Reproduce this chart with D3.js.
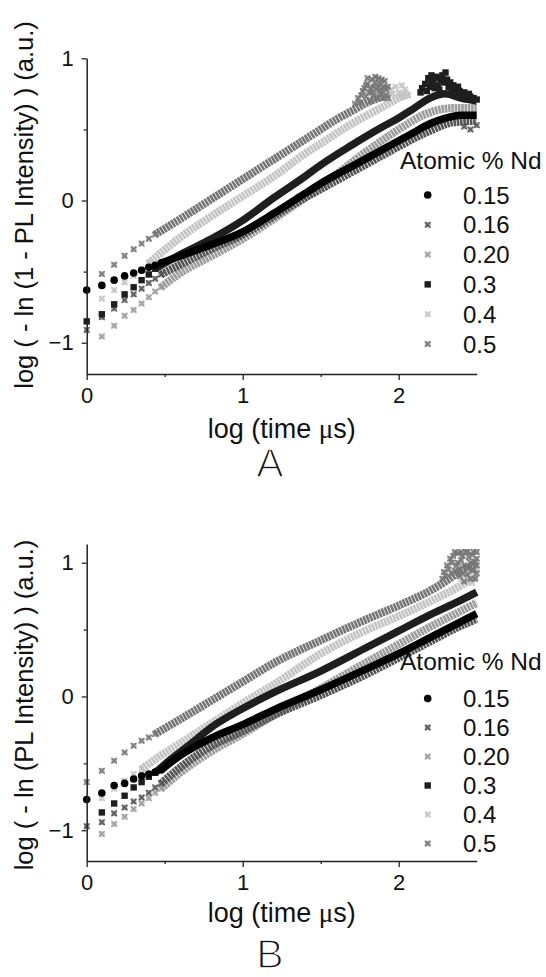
<!DOCTYPE html>
<html>
<head>
<meta charset="utf-8">
<script src="https://cdn.jsdelivr.net/npm/d3@7"></script>
<style>
  body { margin: 0; background: #fff; }
  text { font-family: "Liberation Sans", Arial, sans-serif; fill: #111; }
</style>
</head>
<body>
<svg id="chart" width="546" height="977"></svg>
<script>
// legend order: Atomic % Nd
const levels = ["0.15", "0.16", "0.20", "0.3", "0.4", "0.5"];

// x ticks (log time) and y ticks
const xTicks = [0, 1, 2];
const xMinor = [0.5, 1.5];
const yTicks = [-1, 0, 1];
const yMinor = [-0.5, 0.5];

// panel A : log(-ln(1 - PL)) — first separate points, one list per level
const earlyA = [
  [[0,-0.63],[0.097,-0.597],[0.176,-0.56],[0.243,-0.53],[0.301,-0.51],[0.352,-0.49],[0.398,-0.47],[0.439,-0.455],[0.477,-0.44]],
  [[0,-0.91],[0.097,-0.82],[0.176,-0.76],[0.243,-0.70],[0.301,-0.66],[0.352,-0.62],[0.398,-0.58],[0.439,-0.55],[0.477,-0.52]],
  [[0.097,-0.956],[0.176,-0.88],[0.243,-0.81],[0.301,-0.77],[0.352,-0.725],[0.398,-0.68],[0.439,-0.64],[0.477,-0.61]],
  [[0,-0.85],[0.097,-0.80],[0.176,-0.73],[0.243,-0.66],[0.301,-0.61],[0.352,-0.56],[0.398,-0.52],[0.439,-0.48]],
  [[0.097,-0.69],[0.176,-0.63],[0.243,-0.575],[0.301,-0.53],[0.352,-0.485],[0.398,-0.44]],
  [[0.097,-0.517],[0.176,-0.451],[0.243,-0.389],[0.301,-0.343],[0.352,-0.303],[0.398,-0.269],[0.439,-0.239]]
];
// panel A : where the points run together into bands
const bandA = [
  [[0.477,-0.44],[0.6,-0.39],[0.8,-0.31],[1.0,-0.22],[1.2,-0.09],[1.4,0.05],[1.5,0.12],[1.7,0.24],[1.9,0.36],[2.0,0.42],[2.1,0.48],[2.2,0.54],[2.3,0.58],[2.4,0.60],[2.5,0.60]],
  [[0.477,-0.52],[0.6,-0.45],[0.8,-0.34],[1.0,-0.24],[1.2,-0.11],[1.4,0.02],[1.5,0.08],[1.7,0.20],[1.9,0.32],[2.0,0.38],[2.2,0.49],[2.35,0.55],[2.5,0.56]],
  [[0.477,-0.61],[0.6,-0.51],[0.8,-0.39],[1.0,-0.27],[1.2,-0.13],[1.5,0.10],[1.8,0.35],[2.0,0.50],[2.2,0.62],[2.35,0.65],[2.5,0.65]],
  [[0.439,-0.48],[0.6,-0.38],[0.8,-0.27],[1.0,-0.14],[1.2,0.02],[1.4,0.17],[1.5,0.25],[1.7,0.39],[1.9,0.52],[2.0,0.58],[2.1,0.65],[2.2,0.72],[2.3,0.75],[2.4,0.72],[2.5,0.70]],
  [[0.398,-0.44],[0.6,-0.26],[0.8,-0.11],[1.0,0.03],[1.2,0.17],[1.4,0.33],[1.5,0.40],[1.7,0.54],[1.9,0.66],[2.0,0.72],[2.07,0.75]],
  [[0.439,-0.239],[0.6,-0.13],[0.8,0.01],[1.0,0.15],[1.2,0.29],[1.4,0.43],[1.5,0.50],[1.6,0.57],[1.7,0.63],[1.8,0.69],[1.9,0.73]]
];
// panel A : scattered points at long times
const noiseA = [
  [],
  [[2.42,0.52],[2.46,0.50],[2.5,0.53]],
  [],
  [[2.14,0.76],[2.15,0.79],[2.17,0.82],[2.18,0.77],[2.19,0.86],[2.2,0.80],[2.21,0.88],[2.21,0.83],[2.22,0.84],[2.23,0.79],[2.24,0.87],[2.25,0.81],[2.26,0.78],[2.26,0.86],[2.27,0.85],[2.28,0.88],[2.29,0.83],[2.30,0.90],[2.31,0.85],[2.32,0.80],[2.33,0.83],[2.34,0.78],[2.35,0.81],[2.36,0.76],[2.37,0.79],[2.38,0.80],[2.39,0.77],[2.4,0.74],[2.42,0.76],[2.43,0.72],[2.45,0.75],[2.46,0.73],[2.48,0.72],[2.5,0.71]],
  [[1.93,0.74],[1.95,0.78],[1.96,0.75],[1.98,0.80],[2.0,0.76],[2.01,0.73],[2.02,0.81],[2.03,0.75],[2.04,0.78],[2.06,0.74]],
  [[1.72,0.68],[1.74,0.72],[1.75,0.69],[1.76,0.74],[1.77,0.77],[1.78,0.79],[1.79,0.73],[1.79,0.81],[1.80,0.82],[1.80,0.86],[1.81,0.76],[1.82,0.70],[1.82,0.79],[1.83,0.85],[1.83,0.76],[1.84,0.80],[1.84,0.74],[1.85,0.83],[1.85,0.87],[1.86,0.78],[1.86,0.72],[1.87,0.86],[1.87,0.80],[1.88,0.82],[1.88,0.77],[1.89,0.75],[1.89,0.85],[1.9,0.80],[1.90,0.72],[1.91,0.84],[1.91,0.79],[1.92,0.78],[1.92,0.74],[1.93,0.72],[1.93,0.80]]
];

// panel B : log(-ln(PL))
const earlyB = [
  [[0,-0.77],[0.097,-0.722],[0.176,-0.665],[0.243,-0.65],[0.301,-0.617],[0.352,-0.593],[0.398,-0.58],[0.439,-0.565],[0.477,-0.55]],
  [[0,-0.97],[0.097,-0.94],[0.176,-0.874],[0.243,-0.83],[0.301,-0.785],[0.352,-0.755],[0.398,-0.72],[0.439,-0.68],[0.477,-0.65]],
  [[0.097,-1.028],[0.176,-0.954],[0.243,-0.90],[0.301,-0.842],[0.352,-0.80],[0.398,-0.76],[0.439,-0.72],[0.477,-0.69]],
  [[0.097,-0.867],[0.176,-0.80],[0.243,-0.742],[0.301,-0.68],[0.352,-0.64],[0.398,-0.60],[0.439,-0.57]],
  [[0.097,-0.76],[0.176,-0.69],[0.243,-0.63],[0.301,-0.58],[0.352,-0.543]],
  [[0,-0.64],[0.097,-0.555],[0.176,-0.48],[0.243,-0.418],[0.301,-0.368],[0.352,-0.331],[0.398,-0.306],[0.439,-0.28]]
];
const bandB = [
  [[0.477,-0.55],[0.6,-0.44],[0.8,-0.31],[1.0,-0.21],[1.2,-0.10],[1.5,0.05],[1.8,0.21],[2.0,0.32],[2.2,0.44],[2.4,0.56],[2.5,0.62]],
  [[0.477,-0.65],[0.6,-0.53],[0.8,-0.37],[1.0,-0.26],[1.2,-0.14],[1.5,0.01],[1.8,0.17],[2.0,0.29],[2.2,0.41],[2.4,0.53],[2.5,0.58]],
  [[0.477,-0.69],[0.6,-0.57],[0.8,-0.41],[1.0,-0.28],[1.2,-0.14],[1.5,0.06],[1.8,0.26],[2.0,0.39],[2.2,0.52],[2.4,0.64],[2.5,0.70]],
  [[0.439,-0.57],[0.55,-0.46],[0.65,-0.37],[0.8,-0.23],[1.0,-0.09],[1.2,0.03],[1.5,0.19],[1.8,0.37],[2.0,0.49],[2.2,0.61],[2.4,0.72],[2.5,0.78]],
  [[0.352,-0.543],[0.45,-0.46],[0.6,-0.35],[0.8,-0.20],[1.0,-0.05],[1.2,0.09],[1.5,0.32],[1.8,0.50],[2.0,0.60],[2.2,0.71],[2.4,0.83],[2.5,0.90]],
  [[0.439,-0.28],[0.6,-0.17],[0.8,-0.03],[1.0,0.11],[1.2,0.25],[1.5,0.42],[1.8,0.58],[2.0,0.68],[2.2,0.79],[2.3,0.86],[2.4,0.94],[2.5,0.99]]
];
const noiseB = [
  [], [], [], [],
  [[2.4,0.88],[2.45,0.93],[2.5,0.95],[2.47,0.85]],
  [[2.28,0.88],[2.29,0.93],[2.30,0.90],[2.31,0.98],[2.32,0.95],[2.33,1.03],[2.34,1.0],[2.34,0.92],[2.35,1.05],[2.36,1.08],[2.36,0.94],[2.37,0.98],[2.38,1.07],[2.38,1.0],[2.39,0.95],[2.39,0.90],[2.40,1.02],[2.40,1.08],[2.41,0.92],[2.41,1.05],[2.42,0.86],[2.42,0.98],[2.43,1.08],[2.44,0.97],[2.44,1.08],[2.44,0.91],[2.45,1.04],[2.45,0.96],[2.46,0.88],[2.46,1.0],[2.47,1.06],[2.47,0.94],[2.48,0.95],[2.48,1.08],[2.49,1.01],[2.49,0.88],[2.5,1.08],[2.5,1.03],[2.5,0.98],[2.5,0.92]]
];

// look of each level
const shade = ["#000", "#555", "#9c9c9c", "#1e1e1e", "#c4c4c4", "#767676"];
const drawOrder = [4, 5, 2, 1, 3, 0];

const svg = d3.select("#chart");

function marker(g, i, cx, cy) {
  if (i === 0) {
    g.append("circle").attr("cx", cx).attr("cy", cy).attr("r", 3.8).attr("fill", shade[i]);
  } else if (i === 3) {
    g.append("rect").attr("x", cx - 3.2).attr("y", cy - 3.2).attr("width", 6.4).attr("height", 6.4).attr("fill", shade[i]);
  } else {
    g.append("rect").attr("x", cx - 2.8).attr("y", cy - 2.8).attr("width", 5.6).attr("height", 5.6)
      .attr("fill", shade[i]).attr("fill-opacity", 0.55);
    g.append("path").attr("d", `M${cx-2.8},${cy-2.8}L${cx+2.8},${cy+2.8}M${cx+2.8},${cy-2.8}L${cx-2.8},${cy+2.8}`)
      .attr("stroke", shade[i]).attr("stroke-width", 1.3);
  }
}

function drawPanel(p) {
  const x = d3.scaleLinear().domain([0, 2.5]).range([86.7, 476.7]);
  const y = d3.scaleLinear().domain(p.yDomain).range(p.yRange);
  const g = svg.append("g");

  // bands
  const line = d3.line().x(d => x(d[0])).y(d => y(d[1])).curve(d3.curveMonotoneX);
  drawOrder.forEach(i => {
    g.append("path").datum(p.band[i]).attr("d", line)
      .attr("fill", "none").attr("stroke", shade[i])
      .attr("stroke-width", i === 0 || i === 3 ? 7.5 : 8)
      .attr("stroke-dasharray", i === 0 || i === 3 ? null : "2.6 0.7");
  });
  drawOrder.forEach(i => {
    p.noise[i].forEach(d => marker(g, i, x(d[0]), y(d[1])));
    p.early[i].forEach(d => marker(g, i, x(d[0]), y(d[1])));
  });

  // axes
  g.append("g").attr("transform", `translate(0,${p.yRange[0]})`)
    .call(d3.axisBottom(x).tickValues(xTicks).tickFormat(d3.format("d")).tickSize(6).tickSizeOuter(0).tickPadding(7.5));
  g.append("g").attr("transform", `translate(0,${p.yRange[0]})`)
    .call(d3.axisBottom(x).tickValues(xMinor).tickFormat("").tickSize(3).tickSizeOuter(0))
    .select(".domain").remove();
  g.append("g").attr("transform", `translate(86.7,0)`)
    .call(d3.axisLeft(y).tickValues(yTicks).tickFormat(d3.format("d")).tickSize(5).tickSizeOuter(0).tickPadding(8));
  g.append("g").attr("transform", `translate(86.7,0)`)
    .call(d3.axisLeft(y).tickValues(yMinor).tickFormat("").tickSize(3).tickSizeOuter(0))
    .select(".domain").remove();
  g.selectAll(".domain").attr("stroke", "#222").attr("stroke-width", 1.5);
  g.selectAll(".tick line").attr("stroke", "#222").attr("stroke-width", 1.3);
  g.selectAll(".tick text").attr("font-size", 22).attr("font-family", "Liberation Sans, Arial, sans-serif").attr("fill", "#111");

  // axis titles
  const xt = g.append("text").attr("x", 281.7).attr("y", p.xTitleY).attr("text-anchor", "middle").attr("font-size", 27);
  xt.append("tspan").text("log (time ");
  xt.append("tspan").attr("font-family", "Liberation Serif, serif").text("μ");
  xt.append("tspan").text("s)");
  g.append("text").attr("transform", `translate(33,${p.yTitleC}) rotate(-90)`)
    .attr("text-anchor", "middle").attr("font-size", 25.5).text(p.yTitle);

  // panel letter, thin strokes
  g.append("text").attr("x", 270).attr("y", p.letterY).attr("text-anchor", "middle")
    .attr("font-family", "DejaVu Sans, sans-serif").attr("font-size", 41)
    .attr("fill", "#222").attr("stroke", "#fff").attr("stroke-width", 1.5).text(p.letter);

  // legend
  g.append("text").attr("x", 400).attr("y", p.legTitleY).attr("font-size", 24.5).text("Atomic % Nd");
  levels.forEach((lv, i) => {
    const cy = p.legY0 + i * p.legDy;
    marker(g, i, 427.7, cy);
    g.append("text").attr("x", 463).attr("y", cy).attr("dy", "0.36em").attr("font-size", 24).text(lv);
  });
}

drawPanel({
  yDomain: [-1.22, 1.0], yRange: [374, 58.3],
  early: earlyA, band: bandA, noise: noiseA,
  xTitleY: 437.5, yTitleC: 205, letterY: 477, letter: "A",
  yTitle: "log ( - ln (1 - PL Intensity) )  (a.u.)",
  legTitleY: 168.5, legY0: 195, legDy: 29.8
});
drawPanel({
  yDomain: [-1.23, 1.14], yRange: [861, 544],
  early: earlyB, band: bandB, noise: noiseB,
  xTitleY: 921.5, yTitleC: 705, letterY: 968, letter: "B",
  yTitle: "log ( - ln (PL Intensity) )  (a.u.)",
  legTitleY: 669.5, legY0: 698.5, legDy: 29
});
</script>
</body>
</html>
